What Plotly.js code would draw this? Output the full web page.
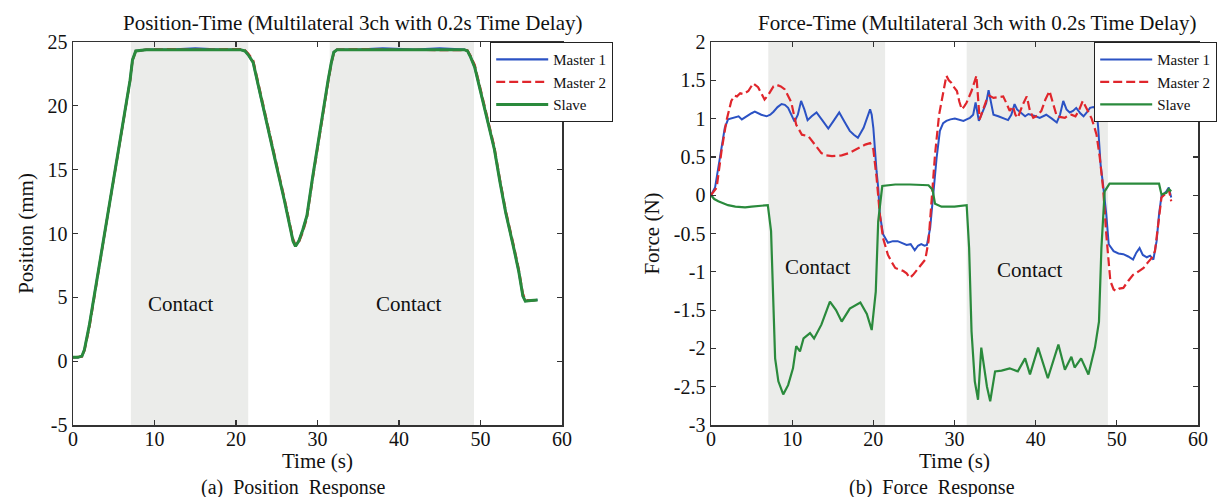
<!DOCTYPE html>
<html>
<head>
<meta charset="utf-8">
<script src="https://cdn.plot.ly/plotly-3.0.1.min.js"></script>
<style>html,body{margin:0;padding:0;background:#fff;}#chart{width:1219px;height:497px;}</style>
</head>
<body>
<div id="chart"></div>
<script>
// ---------------- DATA ----------------
const seriesNames = ['Master 1', 'Master 2', 'Slave'];

// Position response (mm) vs time (s)
const tPos = [0, 0.6, 1.1, 1.4, 2.0, 2.8, 3.5, 4.3, 5.2, 6.0, 6.6, 7.0, 7.3, 7.7, 9, 12, 15, 18, 20.5, 21.1, 21.5, 22.1, 23.0, 24.0, 25.0, 25.9, 26.5, 27.0, 27.3, 27.7, 28.2, 28.7, 29.4, 30.1, 30.7, 31.3, 31.7, 32.0, 32.4, 35, 38, 42, 45, 48.0, 48.4, 48.8, 49.3, 50.5, 51.7, 52.4, 53.1, 54.1, 54.7, 55.2, 55.5, 56.2, 57.0];
const posMaster1 = [0.3, 0.3, 0.4, 0.9, 2.8, 5.9, 8.8, 11.8, 15.2, 18.2, 20.5, 22.0, 23.6, 24.3, 24.4, 24.4, 24.5, 24.4, 24.4, 24.3, 24.0, 23.4, 20.8, 17.9, 15.2, 12.7, 10.9, 9.4, 9.0, 9.4, 10.3, 11.4, 14.4, 17.3, 19.7, 22.0, 23.4, 24.2, 24.4, 24.4, 24.5, 24.4, 24.5, 24.4, 24.3, 23.8, 23.0, 19.8, 16.6, 14.0, 11.6, 8.8, 7.0, 5.1, 4.7, 4.75, 4.8];
const posMaster2 = [0.3, 0.3, 0.35, 0.8, 2.6, 5.7, 8.6, 11.6, 15.0, 18.0, 20.3, 21.9, 23.5, 24.3, 24.4, 24.45, 24.4, 24.4, 24.45, 24.35, 24.1, 23.6, 21.0, 18.1, 15.4, 12.9, 11.1, 9.6, 9.1, 9.3, 10.1, 11.2, 14.2, 17.1, 19.5, 21.8, 23.3, 24.1, 24.4, 24.45, 24.4, 24.4, 24.4, 24.4, 24.35, 23.9, 23.2, 20.0, 16.8, 14.2, 11.8, 9.0, 7.2, 5.3, 4.8, 4.75, 4.8];
const posSlave = [0.3, 0.3, 0.4, 0.9, 2.8, 5.9, 8.8, 11.7, 15.2, 18.2, 20.5, 22.0, 23.6, 24.3, 24.4, 24.4, 24.45, 24.4, 24.4, 24.3, 24.0, 23.4, 20.8, 17.9, 15.2, 12.7, 10.9, 9.4, 9.0, 9.4, 10.3, 11.4, 14.4, 17.3, 19.7, 22.0, 23.4, 24.2, 24.4, 24.4, 24.45, 24.4, 24.45, 24.4, 24.3, 23.8, 23.0, 19.8, 16.6, 14.0, 11.6, 8.8, 7.0, 5.1, 4.7, 4.75, 4.8];

// Force response (N) vs time (s)
const tForceM1 = [0, 0.5, 1.1, 1.7, 2.1, 2.5, 2.95, 3.4, 3.8, 4.2, 4.6, 5.0, 5.4, 5.8, 6.2, 6.85, 7.3, 7.7, 8.2, 8.7, 9.1, 9.5, 10.0, 10.3, 10.7, 11.1, 11.5, 11.9, 12.4, 13.0, 13.7, 14.45, 15.1, 15.8, 16.5, 17.1, 17.6, 18.1, 18.8, 19.3, 19.6, 19.8, 20.0, 20.4, 20.6, 20.8, 21.2, 21.8, 22.4, 23.0, 23.6, 24.1, 24.6, 25.1, 25.5, 25.9, 26.3, 26.6, 27.0, 27.4, 27.8, 28.2, 28.6, 29.0, 29.5, 30.05, 30.6, 31.1, 31.5, 31.9, 32.3, 32.6, 33.0, 33.3, 33.6, 33.9, 34.2, 34.5, 34.8, 35.4, 36.0, 36.6, 37.0, 37.4, 37.7, 38.1, 38.7, 39.1, 39.5, 40.0, 40.5, 41.0, 41.3, 42.0, 42.6, 43.0, 43.4, 43.8, 44.2, 44.6, 45.0, 45.5, 45.9, 46.3, 46.7, 47.1, 47.5, 47.7, 48.0, 48.3, 48.7, 49.0, 49.6, 50.2, 50.8, 51.4, 52.0, 52.4, 52.8, 53.2, 53.7, 54.1, 54.5, 54.9, 55.2, 55.5, 56.1, 56.4, 56.7];
const forceM1 = [0, 0.1, 0.49, 0.88, 0.99, 1.0, 1.02, 1.03, 0.99, 1.02, 1.05, 1.07, 1.09, 1.07, 1.05, 1.03, 1.05, 1.09, 1.15, 1.19, 1.18, 1.14, 1.02, 0.96, 1.05, 1.23, 1.12, 0.98, 1.03, 1.08, 0.98, 0.87, 0.97, 1.08, 0.95, 0.84, 0.79, 0.75, 0.88, 1.02, 1.12, 1.05, 0.88, 0.31, 0.1, -0.25, -0.51, -0.62, -0.6, -0.6, -0.63, -0.65, -0.64, -0.72, -0.66, -0.64, -0.66, -0.65, -0.43, 0.05, 0.49, 0.84, 0.94, 0.97, 0.99, 1.0, 0.98, 0.97, 0.99, 1.01, 1.05, 1.21, 0.97, 1.05, 1.14, 1.2, 1.37, 1.2, 1.05, 1.03, 1.01, 0.98, 1.05, 1.19, 1.12, 1.08, 1.03, 1.06, 1.05, 1.03, 1.01, 1.04, 1.05, 1.0, 0.95, 1.05, 1.23, 1.12, 1.08, 1.1, 1.14, 1.07, 1.03, 1.08, 1.14, 1.15, 1.13, 0.88, 0.4, 0.14, -0.25, -0.64, -0.73, -0.76, -0.77, -0.8, -0.84, -0.75, -0.69, -0.78, -0.81, -0.79, -0.84, -0.6, -0.25, -0.01, 0.05, 0.1, -0.03];

const tForceM2 = [0, 0.7, 1.3, 1.9, 2.5, 2.9, 3.2, 3.6, 4.0, 4.6, 5.2, 5.8, 6.2, 6.6, 7.0, 7.3, 7.7, 8.1, 8.6, 9.1, 9.5, 9.9, 10.2, 10.5, 11.2, 12.0, 12.8, 13.6, 14.2, 14.9, 16.1, 17.0, 17.9, 19.0, 19.6, 20.0, 20.4, 20.8, 21.2, 21.8, 22.3, 22.7, 23.2, 23.7, 24.1, 24.5, 24.9, 25.3, 25.8, 26.4, 26.8, 27.2, 27.6, 28.1, 28.6, 29.0, 29.3, 29.6, 30.0, 30.3, 30.6, 30.9, 31.2, 31.5, 32.1, 32.4, 32.7, 33.1, 33.5, 33.9, 34.3, 34.8, 35.4, 36.0, 36.4, 36.8, 37.2, 37.5, 37.8, 38.4, 38.9, 39.3, 39.7, 40.2, 40.7, 41.2, 41.7, 42.1, 42.6, 43.1, 43.6, 44.0, 44.4, 44.9, 45.3, 45.8, 46.2, 46.6, 46.9, 47.2, 47.5, 47.9, 48.3, 48.7, 49.2, 49.6, 49.9, 50.3, 50.8, 51.4, 52.0, 52.6, 53.3, 53.8, 54.3, 54.7, 55.1, 55.5, 56.1, 56.4, 56.7];
const forceM2 = [0, 0.1, 0.58, 0.97, 1.23, 1.3, 1.29, 1.33, 1.32, 1.36, 1.46, 1.41, 1.33, 1.25, 1.3, 1.36, 1.42, 1.44, 1.42, 1.38, 1.3, 1.21, 1.06, 0.92, 0.79, 0.77, 0.66, 0.55, 0.52, 0.51, 0.52, 0.55, 0.6, 0.66, 0.68, 0.6, 0.23, -0.25, -0.56, -0.78, -0.88, -0.95, -0.97, -0.99, -1.02, -1.08, -1.04, -0.99, -0.92, -0.84, -0.6, -0.08, 0.53, 1.05, 1.36, 1.56, 1.5, 1.47, 1.4, 1.36, 1.22, 1.12, 1.16, 1.21, 1.36, 1.45, 1.56, 0.99, 1.1, 1.23, 1.3, 1.27, 1.28, 1.29, 1.2, 1.1, 1.16, 1.05, 1.01, 1.18, 1.29, 1.1, 1.01, 1.04, 1.1, 1.25, 1.36, 1.2, 1.03, 1.02, 1.01, 1.04, 1.05, 1.03, 1.1, 1.23, 1.15, 1.08, 1.0, 0.9, 0.79, 0.49, 0.1, -0.51, -1.12, -1.23, -1.25, -1.22, -1.21, -1.12, -1.04, -1.0, -0.95, -0.88, -0.82, -0.73, -0.34, -0.03, 0.03, 0.08, -0.08];

const tForceS = [0, 0.4, 0.9, 1.5, 2.1, 3.0, 4.2, 5.0, 6.0, 7.0, 7.4, 7.7, 7.9, 8.3, 8.9, 9.5, 10.1, 10.5, 10.96, 11.4, 12.2, 12.7, 13.6, 14.65, 15.4, 16.1, 17.1, 18.4, 19.2, 19.8, 20.3, 20.6, 21.1, 22.7, 24.5, 26.8, 27.3, 27.6, 28.4, 30.0, 31.5, 31.8, 32.1, 32.5, 32.9, 33.3, 33.7, 34.0, 34.4, 35.0, 35.8, 36.8, 37.8, 38.7, 39.3, 40.3, 41.5, 42.8, 43.6, 44.4, 44.8, 45.6, 46.5, 47.3, 47.8, 48.1, 48.5, 49.1, 52.0, 55.2, 55.5, 56.1, 56.4, 56.7];
const forceS = [0, -0.05, -0.08, -0.11, -0.13, -0.15, -0.16, -0.15, -0.14, -0.13, -0.47, -1.56, -2.13, -2.43, -2.6, -2.48, -2.26, -1.97, -2.04, -1.87, -1.8, -1.87, -1.69, -1.39, -1.5, -1.65, -1.48, -1.4, -1.55, -1.76, -1.26, -0.34, 0.12, 0.14, 0.14, 0.13, 0.07, -0.11, -0.15, -0.15, -0.13, -0.69, -1.78, -2.43, -2.67, -1.99, -2.26, -2.5, -2.69, -2.3, -2.29, -2.26, -2.3, -2.13, -2.34, -1.99, -2.39, -1.95, -2.28, -2.11, -2.25, -2.13, -2.34, -1.99, -1.65, -0.69, 0.05, 0.15, 0.15, 0.15, 0.01, 0.03, 0.08, 0.05];

// Contact intervals (s)
const contactStartPos = [7.1, 31.5];
const contactEndPos = [21.5, 49.2];
const contactStartForce = [7.06, 31.5];
const contactEndForce = [21.45, 48.9];

// Tick values / labels
const xTickVals = [0, 10, 20, 30, 40, 50, 60];
const xTickText = ['0', '10', '20', '30', '40', '50', '60'];
const posTickVals = [-5, 0, 5, 10, 15, 20, 25];
const posTickText = ['-5', '0', '5', '10', '15', '20', '25'];
const forceTickVals = [-3, -2.5, -2, -1.5, -1, -0.5, 0, 0.5, 1, 1.5, 2];
const forceTickText = ['-3', '-2.5', '-2', '-1.5', '-1', '-0.5', '0', '0.5', '1', '1.5', '2'];

// ---------------- STYLE / LAYOUT ----------------
const W = 1219, H = 497;
const FONT = 'Liberation Serif, Times New Roman, serif';
const C_BLUE = '#2b52c4', C_RED = '#e0262c', C_GREEN = '#2a8a3c';
const AX = '#333333';

function mk(x, y, name, color, dash, width, xa, ya, lg, show) {
  return {x: x, y: y, name: name, type: 'scatter', mode: 'lines',
    line: {color: color, width: width, dash: dash},
    xaxis: xa, yaxis: ya, legend: lg, showlegend: show, hoverinfo: 'skip'};
}

const traces = [
  mk(tPos, posMaster1, seriesNames[0], C_BLUE, 'solid', 2.2, 'x', 'y', 'legend', true),
  mk(tPos, posMaster2, seriesNames[1], C_RED, '9px,4px', 2.2, 'x', 'y', 'legend', true),
  mk(tPos, posSlave, seriesNames[2], C_GREEN, 'solid', 3, 'x', 'y', 'legend', true),
  mk(tForceM1, forceM1, seriesNames[0], C_BLUE, 'solid', 2, 'x2', 'y2', 'legend2', true),
  mk(tForceM2, forceM2, seriesNames[1], C_RED, '9px,4px', 2.2, 'x2', 'y2', 'legend2', true),
  mk(tForceS, forceS, seriesNames[2], C_GREEN, 'solid', 2.2, 'x2', 'y2', 'legend2', true)
];

const shapes = [];
contactStartPos.forEach((s, i) => shapes.push({type: 'rect', xref: 'x', yref: 'y domain', x0: s, x1: contactEndPos[i], y0: 0, y1: 1, fillcolor: '#ebecea', line: {width: 0}, layer: 'below'}));
contactStartForce.forEach((s, i) => shapes.push({type: 'rect', xref: 'x2', yref: 'y2 domain', x0: s, x1: contactEndForce[i], y0: 0, y1: 1, fillcolor: '#ebecea', line: {width: 0}, layer: 'below'}));

function xAxis(domain, anchor) {
  return {domain: domain, anchor: anchor, range: [0, 60], tickmode: 'array', tickvals: xTickVals, ticktext: xTickText,
    ticks: 'inside', ticklen: 5, tickcolor: AX, tickwidth: 1.2, showline: true, linecolor: AX, linewidth: 1.5, mirror: 'ticks',
    showgrid: false, zeroline: false, tickfont: {family: FONT, size: 20, color: '#111'}, ticklabelstandoff: -5,
    title: {text: 'Time (s)', font: {family: FONT, size: 21, color: '#111'}, standoff: 0}};
}
function yAxis(domain, anchor, range, tv, tt, title) {
  return {domain: domain, anchor: anchor, range: range, tickmode: 'array', tickvals: tv, ticktext: tt,
    ticks: 'inside', ticklen: 5, tickcolor: AX, tickwidth: 1.2, showline: true, linecolor: AX, linewidth: 1.5, mirror: 'ticks',
    showgrid: false, zeroline: false, tickfont: {family: FONT, size: 20, color: '#111'},
    title: {text: title, font: {family: FONT, size: 21, color: '#111'}, standoff: 8}};
}
const yDom = [1 - 425 / H, 1 - 42 / H];

function legendAt(xpx, anchor) {
  return {x: xpx / W, y: 1 - 42 / H, xanchor: anchor, yanchor: 'top', bgcolor: '#ffffff', bordercolor: '#222', borderwidth: 1.2,
    font: {family: FONT, size: 15, color: '#111'}, tracegroupgap: 0, itemwidth: 52};
}

function ann(text, x, y, size, xref, yref) {
  return {text: text, x: x, y: y, xref: xref || 'paper', yref: yref || 'paper', showarrow: false,
    xanchor: 'center', yanchor: 'middle', font: {family: FONT, size: size, color: '#111'}};
}

const annotations = [
  ann('Position-Time (Multilateral 3ch with 0.2s Time Delay)', 352 / W, 1 - 23 / H, 21),
  ann('Force-Time (Multilateral 3ch with 0.2s Time Delay)', 977 / W, 1 - 23 / H, 21),
  ann('(a)  Position  Response', 293 / W, 1 - 487 / H, 20),
  ann('(b)  Force  Response', 932 / W, 1 - 487 / H, 20),
  ann('Contact', 13.2, 4.5, 21, 'x', 'y'),
  ann('Contact', 41.2, 4.5, 21, 'x', 'y'),
  ann('Contact', 13.1, -0.94, 21, 'x2', 'y2'),
  ann('Contact', 39.3, -0.97, 21, 'x2', 'y2')
];

const layout = {
  width: W, height: H, margin: {l: 0, r: 0, t: 0, b: 0, autoexpand: false}, paper_bgcolor: '#ffffff', plot_bgcolor: '#ffffff',
  font: {family: FONT, color: '#111'},
  xaxis: xAxis([73 / W, 562 / W], 'y'),
  yaxis: yAxis(yDom, 'x', [-5, 25], posTickVals, posTickText, 'Position (mm)'),
  xaxis2: xAxis([711 / W, 1198 / W], 'y2'),
  yaxis2: yAxis(yDom, 'x2', [-3, 2], forceTickVals, forceTickText, 'Force (N)'),
  legend: legendAt(490, 'left'),
  legend2: legendAt(1217, 'right'),
  shapes: shapes,
  annotations: annotations,
  showlegend: true
};

Plotly.newPlot('chart', traces, layout, {staticPlot: true, displayModeBar: false});
</script>
</body>
</html>
